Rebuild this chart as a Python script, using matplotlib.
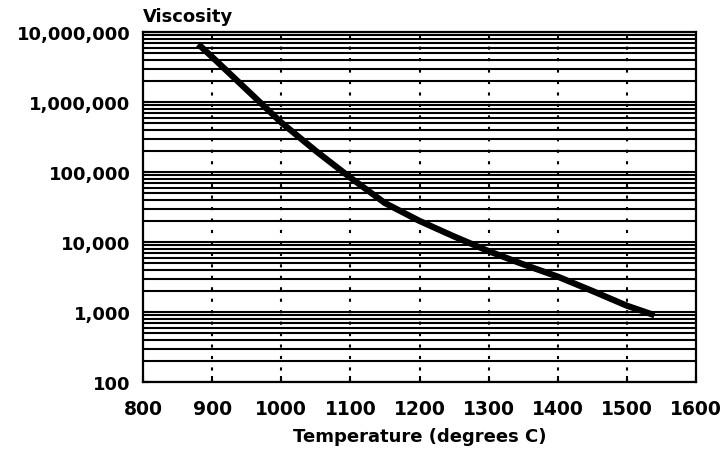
import numpy as np
import matplotlib
matplotlib.use("Agg")
import matplotlib.pyplot as plt
from matplotlib.ticker import FixedLocator, NullFormatter, NullLocator

# Data
temperature = [880, 900, 950, 1000, 1050, 1100, 1150, 1200, 1250, 1300, 1350, 1400, 1450, 1500, 1540]
viscosity = [6.7e6, 4.4e6, 1.5e6, 5.1e5, 2.0e5, 8.3e4, 3.6e4, 2.0e4, 1.2e4, 7.4e3, 4.8e3, 3.2e3, 2.0e3, 1.23e3, 9.0e2]

x_ticks = [800, 900, 1000, 1100, 1200, 1300, 1400, 1500, 1600]
y_ticks = [100, 1000, 10000, 100000, 1000000, 10000000]
y_tick_labels = ["100", "1,000", "10,000", "100,000", "1,000,000", "10,000,000"]

plt.rcParams['font.family'] = ['DejaVu Sans']

fig = plt.figure(figsize=(7.25, 4.56), dpi=100)
ax = fig.add_axes([143/725, 1 - 383/456, (696 - 143)/725, (383 - 33)/456])

ax.set_yscale('log')
ax.set_xlim(800, 1600)
ax.set_ylim(100, 1e7)

# horizontal grid lines at every log minor/major tick
for dec in range(2, 7):
    for m in range(1, 10):
        v = m * 10 ** dec
        if 100 <= v <= 1e7:
            ax.axhline(v, color='black', lw=1.5, zorder=1)
ax.axhline(1e7, color='black', lw=1.5, zorder=1)

# vertical dotted grid lines
for t in x_ticks[1:-1]:
    ax.axvline(t, color='black', lw=1.5, ls=(0, (1.5, 4)), zorder=1)

ax.plot(temperature, viscosity, color='black', lw=4.5, solid_capstyle='butt', zorder=3)

ax.xaxis.set_major_locator(FixedLocator(x_ticks))
ax.set_xticklabels([str(t) for t in x_ticks], fontsize=13.5, fontweight='bold')
ax.yaxis.set_major_locator(FixedLocator(y_ticks))
ax.yaxis.set_minor_locator(NullLocator())
ax.yaxis.set_minor_formatter(NullFormatter())
ax.set_yticklabels(y_tick_labels, fontsize=13, fontweight='bold')
ax.tick_params(axis='both', direction='in', length=4, width=1.5, color='black')
ax.tick_params(axis='x', pad=12)
ax.tick_params(axis='y', pad=9)

for s in ax.spines.values():
    s.set_linewidth(1.6)
    s.set_color('black')

ax.set_xlabel("Temperature (degrees C)", fontsize=13, fontweight='bold', labelpad=7)
fig.text(143/725, 1 - 17/456, "Viscosity", fontsize=13, fontweight='bold', ha='left', va='center')

fig.savefig("out.png", dpi=100, facecolor='white')
